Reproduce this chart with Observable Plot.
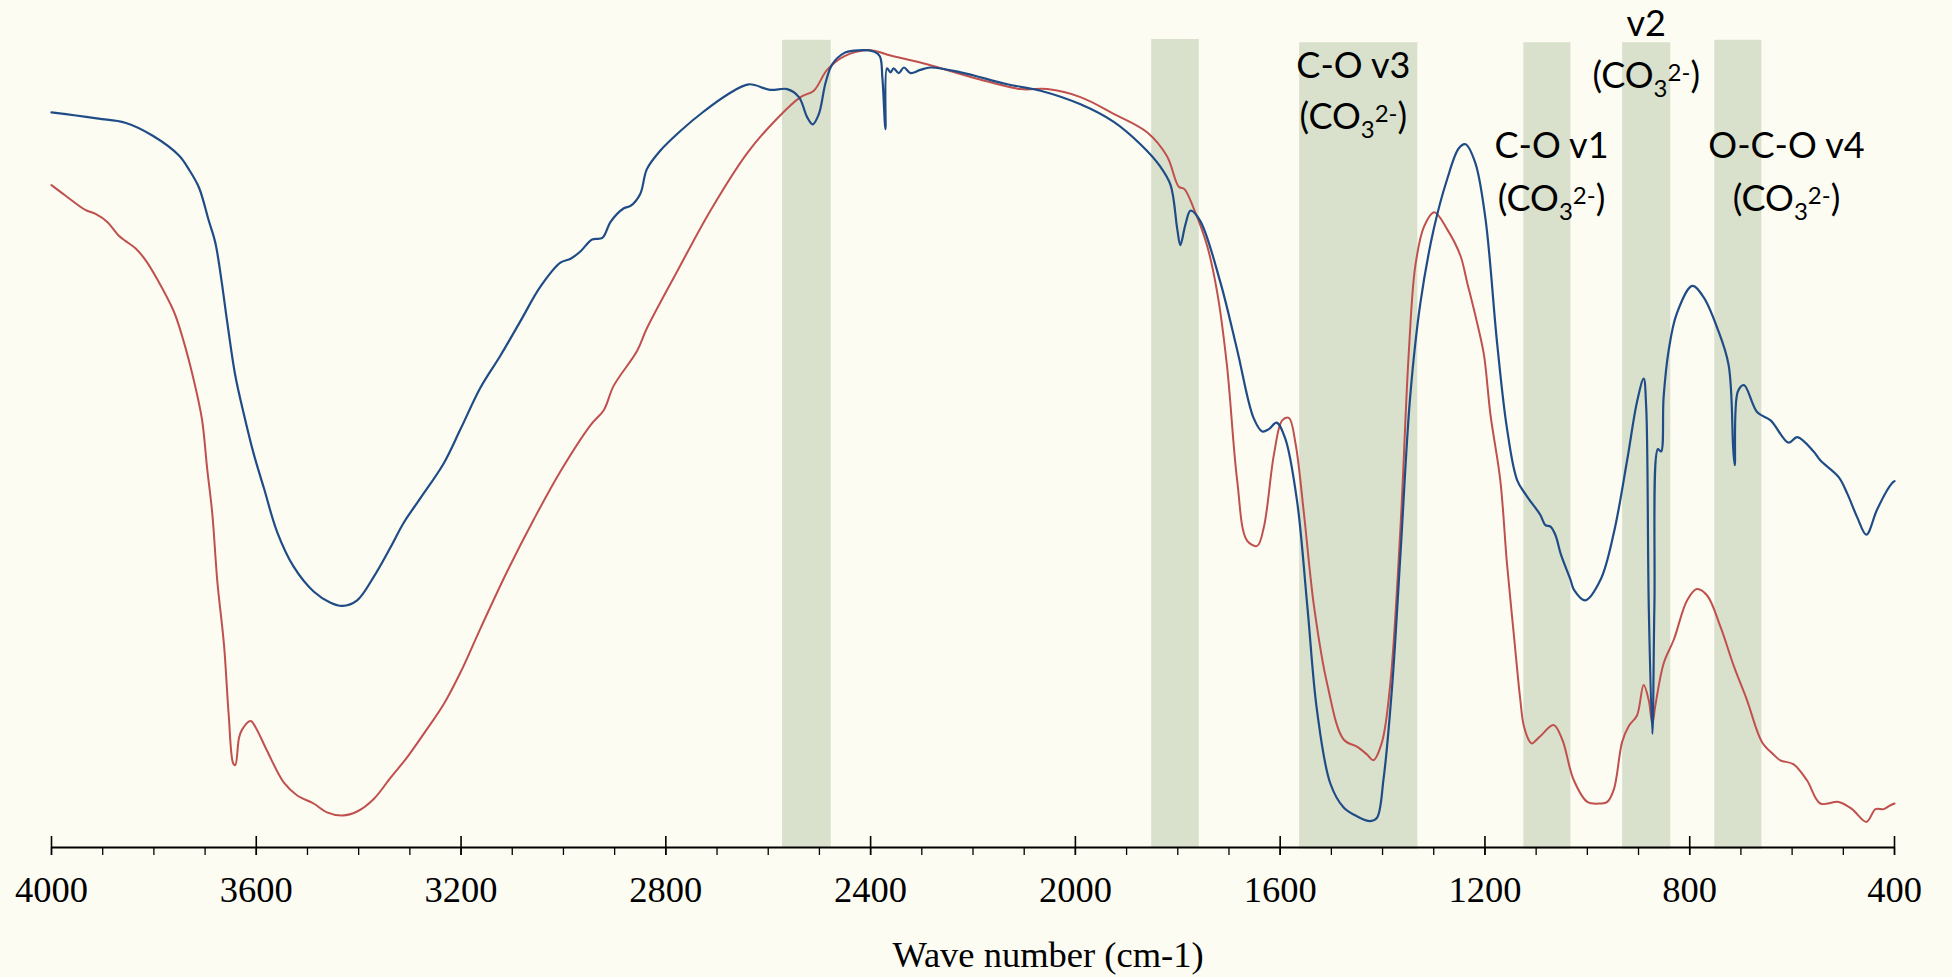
<!DOCTYPE html>
<html><head><meta charset="utf-8">
<script src="https://cdn.jsdelivr.net/npm/d3@7"></script>
<script src="https://cdn.jsdelivr.net/npm/@observablehq/plot@0.6"></script>
<style>
html,body{margin:0;padding:0;background:#FCFCF3;overflow:hidden;}
</style></head><body><div id="chart"></div>
<script>
// Series 1 (blue)
const blueWn = [4000,3952,3908,3856,3803,3751,3732,3712,3693,3680,3668,3657,3641,3624,3605,3585,3559,3527,3488,3455,3432,3403,3370,3338,3312,3279,3234,3201,3162,3123,3084,3045,3006,2986,2967,2944,2924,2908,2882,2869,2850,2837,2811,2771,2726,2680,2638,2596,2563,2540,2524,2513,2501,2488,2475,2452,2433,2394,2382,2377,2371,2368,2361,2355,2345,2335,2322,2303,2283,2224,2133,2068,1990,1925,1873,1834,1814,1801,1795,1785,1775,1756,1717,1684,1652,1635,1622,1607,1590,1567,1547,1528,1502,1476,1450,1424,1411,1398,1381,1365,1346,1326,1300,1274,1251,1238,1219,1199,1176,1157,1137,1118,1092,1082,1072,1062,1052,1033,1026,1004,974,948,922,903,890,885,880,873,869,862,856,851,841,825,795,773,746,724,715,712,706,694,668,642,607,590,558,545,509,492,473,455,435,415,404,400];
const blueT = [91.9,91.5,91.1,90.6,89.0,86.5,84.8,82.5,78.4,75.6,70.9,65.8,59.0,54.1,49.2,44.9,39.4,35.1,32.0,30.6,30.2,30.9,33.9,37.5,40.6,43.7,48.0,52.3,57.5,61.5,65.8,70.1,73.1,73.6,74.5,76.0,76.2,78.2,79.9,80.2,81.7,84.8,87.1,89.6,92.0,94.1,95.4,94.7,94.8,93.8,91.3,90.4,91.7,95.6,97.9,99.3,99.6,99.5,98.9,96.2,89.8,97.4,96.9,97.4,96.8,97.5,96.8,97.2,97.5,96.9,95.4,94.6,92.9,90.7,87.9,85.1,82.8,77.3,75.3,77.9,79.6,78.3,70.7,62.2,53.7,52.0,52.3,53.1,51.1,43.3,30.2,17.1,8.0,5.0,3.9,3.3,3.7,8.6,20.4,36.7,56.4,68.1,77.3,83.5,87.4,87.9,85.6,78.6,62.9,52.4,45.9,43.9,41.6,40.3,40.1,39.0,36.7,33.5,32.2,30.9,33.5,39.4,48.5,55.7,58.6,55.0,30.2,14.2,30.2,49.8,49.5,56.3,62.2,66.8,70.2,68.8,64.9,60.3,49.8,47.8,57.0,57.8,54.4,53.4,50.6,51.3,49.5,48.4,46.3,44.2,41.3,39.1,42.1,44.6,45.6,45.8];

// Series 2 (red)
const redWn = [4000,3973,3934,3914,3891,3869,3855,3836,3816,3794,3761,3742,3722,3706,3696,3686,3676,3663,3654,3645,3641,3634,3628,3611,3602,3579,3546,3520,3488,3462,3432,3403,3370,3338,3305,3273,3234,3201,3162,3110,3058,3006,2947,2921,2902,2856,2837,2778,2713,2641,2583,2537,2511,2485,2452,2407,2387,2361,2290,2192,2107,2055,1990,1925,1860,1821,1798,1787,1769,1743,1723,1704,1684,1665,1645,1632,1612,1596,1583,1570,1554,1534,1508,1476,1450,1430,1418,1401,1385,1365,1349,1336,1319,1299,1274,1248,1235,1215,1202,1189,1170,1157,1144,1131,1124,1111,1108,1092,1066,1049,1027,1000,974,961,948,932,919,903,890,880,873,867,851,831,805,786,766,740,714,688,659,636,623,597,571,545,509,483,455,437,421,410,400];
const redT = [82.8,81.5,79.7,79.2,78.2,76.5,75.8,74.9,73.4,71.1,67.0,63.3,58.4,53.5,47.4,41.8,33.2,25.3,16.7,10.5,10.3,13.6,14.7,15.8,15.1,12.1,8.1,6.5,5.5,4.4,4.0,4.5,6.1,8.7,11.3,14.2,17.9,21.9,27.4,34.5,41.0,47.0,52.8,54.7,57.7,62.1,64.9,72.0,79.6,86.8,91.1,93.8,94.6,97.2,98.9,99.7,99.5,99.0,97.9,96.1,94.8,94.8,93.8,91.7,89.4,86.4,82.6,82.3,79.9,75.3,69.4,60.3,45.9,38.4,37.7,40.0,49.2,53.4,53.7,50.5,42.0,30.2,20.4,13.5,12.6,11.6,10.9,13.2,20.4,40.0,61.6,72.7,77.6,79.4,77.3,74.0,70.7,65.5,61.6,54.0,45.9,35.5,26.9,18.5,15.2,13.1,13.0,13.9,15.3,13.5,8.5,5.7,5.5,5.7,7.3,13.2,15.2,16.5,20.3,18.4,15.5,17.8,23.0,26.0,30.9,32.3,31.5,27.6,22.7,18.4,13.2,11.6,10.9,10.4,8.4,5.5,5.7,4.8,3.2,4.8,4.8,5.2,5.5];

// Highlighted bands (cm-1)
const bandStart = [2572, 1851, 1562, 1124, 931, 751];
const bandEnd   = [2477, 1758, 1331, 1032, 837, 659];
const bandTop   = [100.9, 101.0, 100.6, 100.6, 100.6, 100.9];
const bandBottom = [0, 0, -0.25, -0.25, -0.25, -0.25];

// Annotations
const labelText = ["v2", "(CO3 2-)", "C-O v3", "(CO3 2-)", "C-O v1", "(CO3 2-)", "O-C-O v4", "(CO3 2-)"];
const labelWn   = [885, 885, 1457, 1457, 1070, 1070, 611, 611];
const labelY    = [102.9, 96.4, 97.65, 91.3, 87.65, 81.05, 87.65, 81.05];

// Axis ticks
const majorTicks = d3.range(400, 4001, 400);
const minorTicks = d3.range(400, 4001, 100);
const xTitle = "Wave number (cm-1)";

const blueRows = blueWn.map((w, i) => ({wn: w, t: blueT[i]}));
const redRows = redWn.map((w, i) => ({wn: w, t: redT[i]}));
const bands = bandStart.map((s, i) => ({s, e: bandEnd[i], top: bandTop[i], bottom: bandBottom[i]}));
const labels = labelText.map((t, i) => ({text: t, wn: labelWn[i], y: labelY[i]}));

const chart = Plot.plot({
  width: 1952, height: 977,
  marginLeft: 51, marginRight: 58, marginTop: 47, marginBottom: 130,
  style: {background: "#FCFCF3", fontFamily: "'Liberation Serif', 'Times New Roman', serif", color: "black"},
  x: {domain: [4000, 400], axis: null},
  y: {domain: [0, 100], axis: null},
  marks: [
    Plot.rect(bands, {x1: "s", x2: "e", y1: "bottom", y2: "top", fill: "#D9E1CD"}),
    Plot.line(redRows, {x: "wn", y: "t", stroke: "#C0504D", strokeWidth: 2, curve: "catmull-rom"}),
    Plot.line(blueRows, {x: "wn", y: "t", stroke: "#1F4C86", strokeWidth: 2.2, curve: "catmull-rom"}),
    Plot.ruleY([0], {stroke: "black", strokeWidth: 2.2}),
    Plot.axisX({ticks: minorTicks, tickSize: 8, tickFormat: () => "", label: null, strokeWidth: 1.3}),
    Plot.axisX({ticks: majorTicks, tickSize: 19, dy: -11, tickFormat: () => "", label: null, strokeWidth: 1.6}),
    Plot.axisX({ticks: majorTicks, tickSize: 0, tickPadding: 29, fontSize: 36.5, tickFormat: d => String(d), label: null}),
    Plot.text([xTitle], {text: d => d, frameAnchor: "bottom", dx: 75, dy: 119, fontSize: 36.5, fill: "black"}),
    Plot.text(labels, {x: "wn", y: "y", text: "text", fontFamily: "Lato", fontSize: 36, fill: "black"})
  ]
});

// Render chemical formulas with real subscript / superscript
d3.select(chart).selectAll("text").each(function() {
  const m = (this.textContent || "").match(/^\(CO(\d) (\d-)\)$/);
  if (!m) return;
  const sel = d3.select(this);
  sel.text("");
  sel.append("tspan").text("(CO");
  sel.append("tspan").attr("font-size", 24).attr("dy", 9).text(m[1]);
  sel.append("tspan").attr("font-size", 24).attr("dy", -16).text(m[2]);
  sel.append("tspan").attr("dy", 7).text(")");
});

document.getElementById("chart").appendChild(chart);
</script></body></html>
